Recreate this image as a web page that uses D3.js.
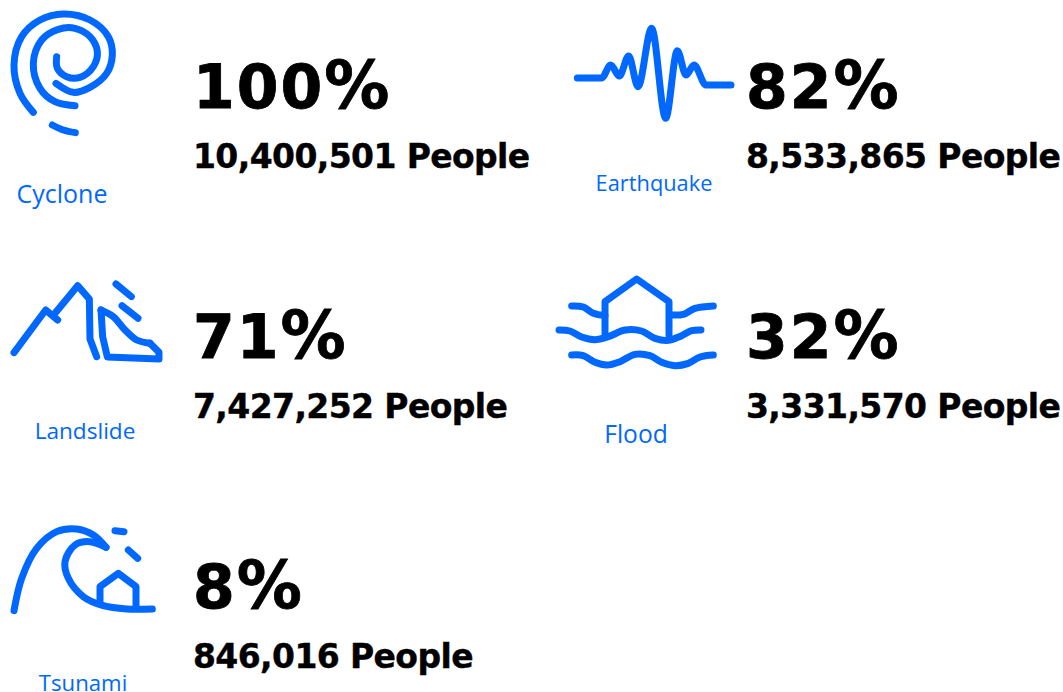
<!DOCTYPE html>
<html>
<head>
<meta charset="utf-8">
<script src="https://cdn.jsdelivr.net/npm/d3@7"></script>
<style>
  html, body { margin: 0; background: #fff; }
  svg { display: block; }
  .pct { font: bold 60px "DejaVu Sans"; letter-spacing: 2px; fill: #000; stroke: #000; stroke-width: 0.8px; }
  .pct tspan { font-size: 65px; letter-spacing: 0; }
  .people { font: bold 33px "DejaVu Sans"; letter-spacing: -0.6px; fill: #000; stroke: #000; stroke-width: 0.4px; }
  .name { font-family: "Open Sans"; fill: #0068ff; text-anchor: middle; }
  .icon path { fill: none; stroke: #0068ff; stroke-width: 21; stroke-linecap: round; stroke-linejoin: round; }
</style>
</head>
<body>
<svg width="1063" height="692"></svg>
<script>
const hazards = ["Cyclone", "Earthquake", "Landslide", "Flood", "Tsunami"];
const percents = [100, 82, 71, 32, 8];
const people = [10400501, 8533865, 7427252, 3331570, 846016];

// grid slot of each hazard
const cols = [0, 1, 0, 1, 0];
const rows = [0, 0, 1, 1, 2];

// label placement and size differ per icon in the original
const labelX = [62, 654, 85, 636, 83];
const labelY = [203, 191, 439, 443, 691];
const labelSize = [25, 21.8, 22.6, 24.6, 22.2];

const svg = d3.select("svg");

const x = d3.scalePoint().domain([0, 1]).range([193, 746]);
const y = d3.scalePoint().domain([0, 1, 2]).range([108, 608]);

const smooth = d3.line().curve(d3.curveCatmullRom.alpha(0.5));
const wiggle = d3.line().curve(d3.curveMonotoneX);
const straight = d3.line();

// icon outlines, traced at 3x from the picture
const icons = [
  { at: [0, 0], lines: [
    [smooth, [[100,337],[60,280],[42,195],[65,110],[120,60],[190,42],[270,60],[325,110],[337,165],[320,220],[270,262],[220,277],[168,250]]],
    [smooth, [[225,317],[165,305],[120,265],[100,190],[125,120],[175,88],[225,85],[270,110],[292,155],[280,200],[240,232],[200,230],[172,205],[170,170]]],
    [smooth, [[157,375],[190,390],[226,398]]]
  ]},
  { at: [550, 10], lines: [
    [wiggle, [[82,204],[155,204],[182,165],[208,198],[236,138],[264,230],[305,55],[347,325],[382,122],[408,195],[432,165],[468,225],[543,225]]]
  ]},
  { at: [0, 265], lines: [
    [straight, [[42,263],[137,135],[173,165]]],
    [straight, [[165,145],[233,62],[268,102],[270,222],[290,275]]],
    [smooth, [[303,135],[340,155],[375,195],[410,225],[450,235]]],
    [straight, [[450,235],[477,262],[477,282],[322,276],[308,215],[303,135]]],
    [straight, [[348,57],[394,95]]],
    [straight, [[366,122],[414,160]]]
  ]},
  { at: [545, 265], lines: [
    [straight, [[180,210],[180,110],[275,42],[372,110],[372,210]]],
    [smooth, [[80,123],[115,126],[145,145],[180,152]]],
    [smooth, [[380,150],[415,148],[450,130],[505,123]]],
    [smooth, [[42,195],[75,198],[110,216],[150,224],[190,215],[240,195],[290,198],[330,220],[370,226],[410,212],[440,197],[468,195]]],
    [smooth, [[80,270],[115,272],[150,292],[185,300],[225,290],[270,268],[315,272],[350,292],[390,302],[430,295],[465,276],[505,270]]]
  ]},
  { at: [0, 515], lines: [
    [smooth, [[42,287],[65,190],[110,100],[170,50],[230,42],[280,60],[318,97]]],
    [smooth, [[318,97],[270,80],[225,90],[195,140],[205,190],[250,245],[310,272],[380,282],[457,282]]],
    [straight, [[300,265],[300,215],[355,175],[408,215],[408,275]]],
    [straight, [[345,47],[372,50]]],
    [straight, [[385,105],[413,130]]]
  ]}
];

const fmt = d3.format(",");

const pct = svg.selectAll(".pct")
    .data(percents)
  .enter().append("text")
    .attr("class", "pct")
    .attr("x", (d, i) => x(cols[i]))
    .attr("y", (d, i) => y(rows[i]))
    .text(d => d);
pct.append("tspan").text("%");

svg.selectAll(".people")
    .data(people)
  .enter().append("text")
    .attr("class", "people")
    .attr("x", (d, i) => x(cols[i]))
    .attr("y", (d, i) => y(rows[i]) + 60)
    .text(d => fmt(d) + " People");

svg.selectAll(".name")
    .data(hazards)
  .enter().append("text")
    .attr("class", "name")
    .attr("x", (d, i) => labelX[i])
    .attr("y", (d, i) => labelY[i])
    .style("font-size", (d, i) => labelSize[i] + "px")
    .text(d => d);

const icon = svg.selectAll(".icon")
    .data(icons)
  .enter().append("g")
    .attr("class", "icon")
    .attr("transform", d => "translate(" + d.at[0] + "," + d.at[1] + ") scale(" + 1 / 3 + ")");

icon.selectAll("path")
    .data(d => d.lines)
  .enter().append("path")
    .attr("d", d => d[0](d[1]));
</script>
</body>
</html>
